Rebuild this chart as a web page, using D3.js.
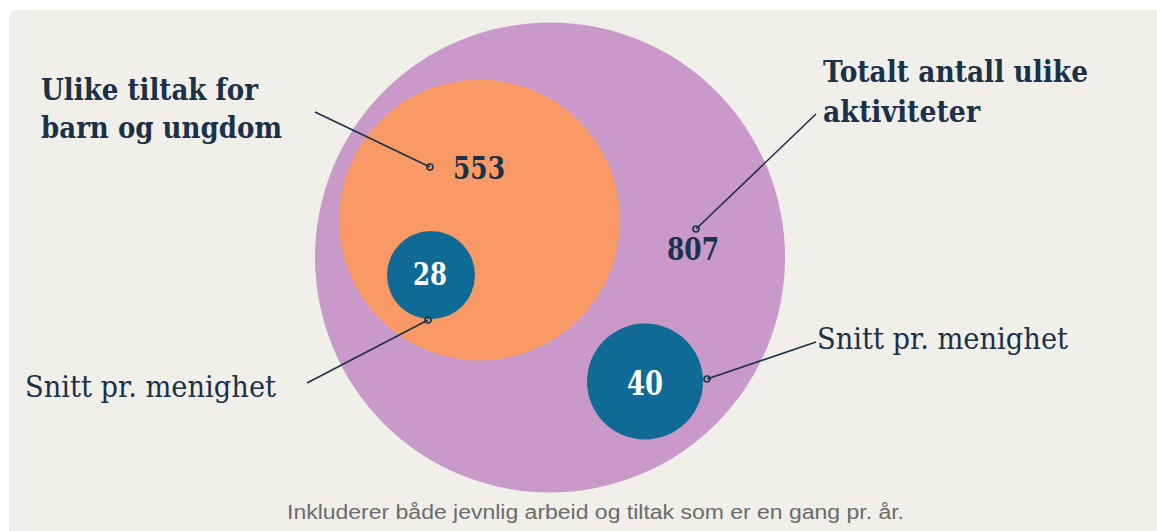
<!DOCTYPE html>
<html><head><meta charset="utf-8">
<script src="https://cdn.jsdelivr.net/npm/d3@7"></script>
<style>html,body{margin:0;padding:0;background:#fff;}svg{display:block;}</style>
</head><body>
<svg id="chart" width="1157" height="531"></svg>
<script>
// ---- data ----
const names = ["Totalt antall ulike aktiviteter", "Ulike tiltak for barn og ungdom", "Snitt pr. menighet (barn og ungdom)", "Snitt pr. menighet (totalt)"];
const values = [807, 553, 28, 40];
const titleLines = [["Totalt antall ulike", "aktiviteter"], ["Ulike tiltak for", "barn og ungdom"], ["Snitt pr. menighet"], ["Snitt pr. menighet"]];
const footnote = "Inkluderer både jevnlig arbeid og tiltak som er en gang pr. år.";

// ---- layout ----
const W = 1157, H = 531;
const svg = d3.select("#chart");
const serif = "'DejaVu Serif', serif";
const dark = "#1b3148";
const colors = ["#c899c9", "#f99a66", "#106a96", "#106a96"];

// radius scale (piecewise)
const r = d3.scaleLinear().domain([28, 40, 553, 807]).range([44, 58, 140.5, 235]);
const x = d3.scaleLinear().domain([0, 1]).range([0, W]);
const y = d3.scaleLinear().domain([0, 1]).range([0, H]);
const centers = [[0.4754, 0.4849], [0.4145, 0.4143], [0.3725, 0.5180], [0.5575, 0.7185]];

svg.append("rect").attr("x", 9).attr("y", 10).attr("width", W + 20).attr("height", H + 20).attr("rx", 7).attr("fill", "#f1efea");

const nodes = values.map((v, i) => ({v, i, cx: x(centers[i][0]), cy: y(centers[i][1]), r: r(v)}));

svg.selectAll("circle.bub").data(nodes).join("circle").attr("class", "bub")
  .attr("cx", d => d.cx).attr("cy", d => d.cy).attr("r", d => d.r).attr("fill", d => colors[d.i]);

// value labels: [x-centre, baseline, width, font-size]
const valLayout = [[693, 260, 52, 32], [479, 179, 52, 31.5], [430, 285, 34, 31.5], [645, 395, 36, 34]];
nodes.forEach(d => {
  const p = valLayout[d.i];
  svg.append("text").attr("font-family", serif).attr("font-weight", "bold")
    .attr("text-anchor", "middle")
    .attr("x", p[0]).attr("y", p[1])
    .attr("font-size", p[3])
    .attr("textLength", p[2]).attr("lengthAdjust", "spacingAndGlyphs")
    .attr("fill", d.i >= 2 ? "#fff" : dark)
    .text(d3.format("d")(d.v));
});

const ann = [
  {dot: [696, 229], end: [816, 114]},
  {dot: [430, 167], end: [315, 112]},
  {dot: [428, 320], end: [307, 383]},
  {dot: [707, 379], end: [816, 342]}
];
ann.forEach(a => {
  svg.append("line").attr("x1", a.dot[0]).attr("y1", a.dot[1]).attr("x2", a.end[0]).attr("y2", a.end[1])
    .attr("stroke", dark).attr("stroke-width", 1.6);
  svg.append("circle").attr("cx", a.dot[0]).attr("cy", a.dot[1]).attr("r", 3)
    .attr("fill", "none").attr("stroke", dark).attr("stroke-width", 1.6);
});

// titles: [x, baseline, width, bold]
const titleLayout = [
  [[823, 82, 265], [823, 122, 157]],
  [[41, 100, 217], [41, 138, 241]],
  [[25, 397, 251]],
  [[817, 349, 251]]
];
titleLines.forEach((lines, i) => {
  lines.forEach((line, j) => {
    const p = titleLayout[i][j];
    svg.append("text").attr("font-family", serif).attr("font-weight", i < 2 ? "bold" : "normal")
      .attr("font-size", 30).attr("fill", dark)
      .attr("x", p[0]).attr("y", p[1])
      .attr("textLength", p[2]).attr("lengthAdjust", "spacingAndGlyphs")
      .text(line);
  });
});

svg.append("text").attr("font-family", "'Liberation Sans', Arial, sans-serif").attr("font-size", 19.5)
  .attr("fill", "#6b6b6b").attr("x", 287).attr("y", 519)
  .attr("textLength", 617).attr("lengthAdjust", "spacingAndGlyphs").text(footnote);
</script>
</body></html>
